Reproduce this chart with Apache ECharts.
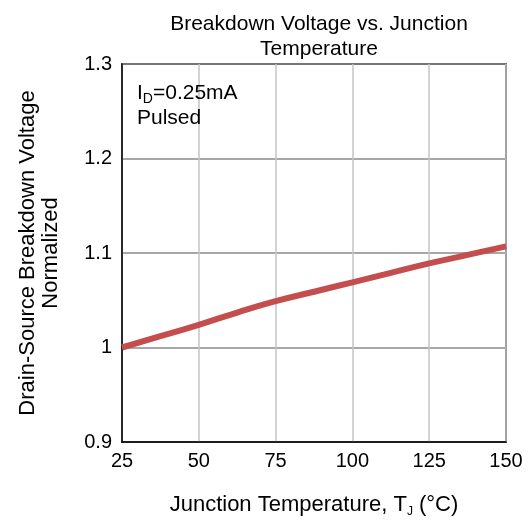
<!DOCTYPE html>
<html>
<head>
<meta charset="utf-8">
<script src="https://cdn.jsdelivr.net/npm/echarts@6/dist/echarts.min.js"></script>
<style>
  html, body { margin: 0; padding: 0; background: #fff; }
  #chart { width: 528px; height: 523px; }
</style>
</head>
<body>
<div id="chart"></div>
<script>
// ข้อมูลที่อ่านจากกราฟ
var temperature = [25, 37.5, 50, 62.5, 75, 87.5, 100, 112.5, 125, 137.5, 150];
var bvNormalized = [1.0, 1.012, 1.024, 1.037, 1.049, 1.059, 1.069, 1.079, 1.089, 1.098, 1.107];

var FONT = 'Liberation Sans, Arial, sans-serif';

var dom = document.getElementById('chart');
var myChart = echarts.init(dom, null, { renderer: 'canvas' });

var subStyle = { fontSize: 14, fontFamily: FONT, color: '#000', verticalAlign: 'bottom', lineHeight: 25 };
var subSmall = { fontSize: 12, fontFamily: FONT, color: '#000', verticalAlign: 'bottom', lineHeight: 26 };

var option = {
    animation: false,
    backgroundColor: '#fff',
    title: [
        {
            text: 'Breakdown Voltage vs. Junction\nTemperature',
            left: 314,
            top: 7,
            textAlign: 'center',
            textStyle: {
                color: '#000',
                fontFamily: FONT,
                fontSize: 21,
                fontWeight: 'normal',
                lineHeight: 25
            }
        },
        {
            text: 'I{sub|D}=0.25mA\nPulsed',
            left: 132,
            top: 76,
            textStyle: {
                color: '#000',
                fontFamily: FONT,
                fontSize: 21,
                fontWeight: 'normal',
                lineHeight: 25,
                rich: { sub: subStyle }
            }
        }
    ],
    grid: {
        left: 122,
        right: 22,
        top: 64,
        bottom: 79,
        show: true,
        borderColor: '#000',
        borderWidth: 1.5
    },
    xAxis: {
        type: 'value',
        min: 25,
        max: 150,
        interval: 25,
        name: 'Junction Temperature, T{sub|J} (°C)',
        nameLocation: 'middle',
        nameGap: 50,
        nameTextStyle: {
            color: '#000',
            fontFamily: FONT,
            fontSize: 22,
            rich: { sub: subSmall }
        },
        axisLine: { show: true, lineStyle: { color: '#000', width: 1.5 } },
        axisTick: { show: false },
        axisLabel: { color: '#000', fontFamily: FONT, fontSize: 20, margin: 9 },
        splitLine: { show: true, lineStyle: { color: '#c4c4c4', width: 1.5 } }
    },
    yAxis: {
        type: 'value',
        min: 0.9,
        max: 1.3,
        interval: 0.1,
        name: 'Drain-Source Breakdown Voltage\nNormalized',
        nameLocation: 'middle',
        nameRotate: 90,
        nameGap: 60,
        nameTextStyle: {
            color: '#000',
            fontFamily: FONT,
            fontSize: 22,
            lineHeight: 23
        },
        axisLine: { show: true, lineStyle: { color: '#000', width: 1.5 } },
        axisTick: { show: false },
        axisLabel: { color: '#000', fontFamily: FONT, fontSize: 20, margin: 10 },
        splitLine: { show: true, lineStyle: { color: '#8a8a8a', width: 1.5 } }
    },
    series: [
        {
            type: 'line',
            data: temperature.map(function (t, i) { return [t, bvNormalized[i]]; }),
            showSymbol: false,
            smooth: true,
            lineStyle: { color: '#c44d4d', width: 6 }
        }
    ]
};

myChart.setOption(option);
</script>
</body>
</html>
